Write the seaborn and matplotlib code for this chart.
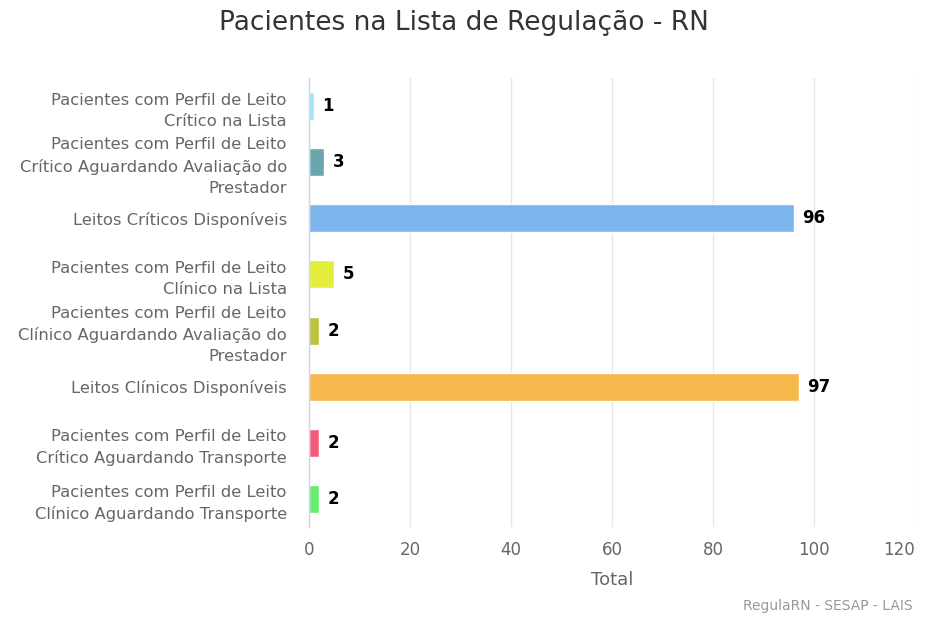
import pandas as pd
import matplotlib.pyplot as plt
import seaborn as sns

categorias = [
    "Pacientes com Perfil de Leito\nCrítico na Lista",
    "Pacientes com Perfil de Leito\nCrítico Aguardando Avaliação do\nPrestador",
    "Leitos Críticos Disponíveis",
    "Pacientes com Perfil de Leito\nClínico na Lista",
    "Pacientes com Perfil de Leito\nClínico Aguardando Avaliação do\nPrestador",
    "Leitos Clínicos Disponíveis",
    "Pacientes com Perfil de Leito\nCrítico Aguardando Transporte",
    "Pacientes com Perfil de Leito\nClínico Aguardando Transporte",
]
totais = [1, 3, 96, 5, 2, 97, 2, 2]
cores = ["#a0e6f5", "#6aa6ad", "#7cb5ec", "#e4ee3a", "#bcc23a", "#f6b74b", "#f45b7a", "#66ec6e"]
xticks = [0, 20, 40, 60, 80, 100, 120]

df = pd.DataFrame({"categoria": categorias, "total": totais})

sns.set_style("white")
plt.rcParams['font.family'] = ['DejaVu Sans']

fig = plt.figure(figsize=(9.28, 6.19), dpi=100)
ax = fig.add_axes([309 / 928, 1 - 527 / 619, (915 - 309) / 928, (527 - 78) / 619])

sns.barplot(data=df, x="total", y="categoria", hue="categoria", palette=cores,
            legend=False, width=0.5, saturation=1, edgecolor="white",
            linewidth=1, ax=ax)

for i, v in enumerate(totais):
    ax.text(v + 1.7, i, str(v), va="center", ha="left", fontsize=12,
            fontweight="bold", color="black")

ax.set_xlim(0, 120)
ax.set_xticks(xticks)
ax.set_xticklabels([str(t) for t in xticks], fontsize=12, color="#666666")
ax.get_xticklabels()[-1].set_horizontalalignment("right")
ax.tick_params(axis="y", labelsize=11.8, labelcolor="#666666", length=0, pad=16)
ax.tick_params(axis="x", length=0, pad=10)
for lbl in ax.get_yticklabels():
    lbl.set_linespacing(1.5)
ax.grid(axis="x", color="#e6e6e6", linewidth=1)
ax.set_axisbelow(True)
for s in ["top", "right", "bottom"]:
    ax.spines[s].set_visible(False)
ax.spines["left"].set_color("#ccd6eb")
ax.spines["left"].set_linewidth(1)
ax.set_ylabel("")
ax.set_xlabel("Total", fontsize=13, color="#666666", labelpad=9)

fig.text(0.5, 1 - 23 / 619, "Pacientes na Lista de Regulação - RN", ha="center",
         va="center", fontsize=19, color="#333333")
fig.text(913 / 928, 1 - 606 / 619, "RegulaRN - SESAP - LAIS", ha="right",
         va="center", fontsize=10, color="#999999")

fig.savefig("out.png", dpi=100)
